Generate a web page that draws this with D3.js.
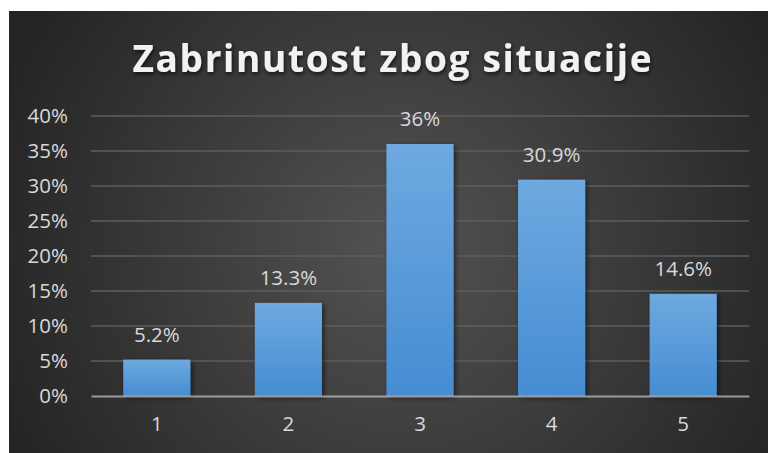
<!DOCTYPE html>
<html>
<head>
<meta charset="utf-8">
<script src="https://cdn.jsdelivr.net/npm/d3@7"></script>
<style>
  body { margin: 0; background: #ffffff; }
  svg { display: block; }
</style>
</head>
<body>
<div class="chart"></div>
<script>
// Chart data
var categories = ["1", "2", "3", "4", "5"];
var values = [5.2, 13.3, 36, 30.9, 14.6];
var valueLabels = ["5.2%", "13.3%", "36%", "30.9%", "14.6%"];
var yTicks = [0, 5, 10, 15, 20, 25, 30, 35, 40];
var title = "Zabrinutost zbog situacije";

var svgWidth = 768;
var svgHeight = 453;

var margin = { top: 116, right: 19, bottom: 57, left: 91 };
var width = svgWidth - margin.left - margin.right;
var height = svgHeight - margin.top - margin.bottom;

var svg = d3.select(".chart")
  .append("svg")
  .attr("width", svgWidth)
  .attr("height", svgHeight);

var defs = svg.append("defs");

// background gradient
var bg = defs.append("radialGradient")
  .attr("id", "bg")
  .attr("gradientUnits", "userSpaceOnUse")
  .attr("cx", 400).attr("cy", 250).attr("r", 430);
bg.append("stop").attr("offset", "0%").attr("stop-color", "#535353");
bg.append("stop").attr("offset", "100%").attr("stop-color", "#242424");

// bar gradient
var barGrad = defs.append("linearGradient")
  .attr("id", "barGrad")
  .attr("x1", 0).attr("y1", 0).attr("x2", 0).attr("y2", 1);
barGrad.append("stop").attr("offset", "0%").attr("stop-color", "#6ea9df");
barGrad.append("stop").attr("offset", "100%").attr("stop-color", "#458dd3");

var shadow = defs.append("filter")
  .attr("id", "shadow")
  .attr("x", "-20%").attr("y", "-20%").attr("width", "150%").attr("height", "150%");
shadow.append("feDropShadow")
  .attr("dx", 2).attr("dy", 2).attr("stdDeviation", 2.5)
  .attr("flood-color", "#000").attr("flood-opacity", 0.55);

var titleShadow = defs.append("filter")
  .attr("id", "titleShadow")
  .attr("x", "-10%").attr("y", "-30%").attr("width", "120%").attr("height", "160%");
titleShadow.append("feDropShadow")
  .attr("dx", 1).attr("dy", 2).attr("stdDeviation", 2)
  .attr("flood-color", "#000").attr("flood-opacity", 0.7);

svg.append("rect")
  .attr("x", 9).attr("y", 11)
  .attr("width", svgWidth - 9).attr("height", svgHeight - 11)
  .attr("fill", "url(#bg)");

// Title
svg.append("text")
  .attr("x", 392)
  .attr("y", 72)
  .attr("text-anchor", "middle")
  .attr("font-family", "'Open Sans', sans-serif")
  .attr("font-weight", "bold")
  .attr("font-size", 37)
  .attr("fill", "#f2f2f2")
  .attr("textLength", 519)
  .attr("lengthAdjust", "spacing")
  .attr("filter", "url(#titleShadow)")
  .text(title);

var chartGroup = svg.append("g")
  .attr("transform", `translate(${margin.left}, ${margin.top})`);

// Scales
var xScale = d3.scaleBand()
  .domain(categories)
  .range([0, width])
  .paddingInner(0.49)
  .paddingOuter(0.245);

var yScale = d3.scaleLinear()
  .domain([0, 40])
  .range([height, 0]);

// Gridlines
chartGroup.append("g")
  .selectAll("line")
  .data(yTicks.filter(d => d > 0))
  .enter()
  .append("line")
  .attr("x1", 0).attr("x2", width)
  .attr("y1", d => yScale(d)).attr("y2", d => yScale(d))
  .attr("stroke", "#5e5e5e")
  .attr("stroke-width", 1.5);

// Y axis labels
var leftAxis = d3.axisLeft(yScale)
  .tickValues(yTicks)
  .tickFormat(d => d + "%")
  .tickSize(0)
  .tickPadding(23);

var yAxis = chartGroup.append("g").call(leftAxis);
yAxis.select(".domain").remove();
yAxis.selectAll("text")
  .attr("font-family", "'Open Sans', sans-serif")
  .attr("font-size", 20.5)
  .attr("fill", "#d9d9d9");

// Bars
chartGroup.selectAll(".bar")
  .data(values)
  .enter()
  .append("rect")
  .attr("class", "bar")
  .attr("x", (d, i) => xScale(categories[i]))
  .attr("y", d => yScale(d))
  .attr("width", xScale.bandwidth())
  .attr("height", d => height - yScale(d))
  .attr("fill", "url(#barGrad)")
  .attr("filter", "url(#shadow)");

// Value labels
chartGroup.selectAll(".label")
  .data(values)
  .enter()
  .append("text")
  .attr("class", "label")
  .attr("x", (d, i) => xScale(categories[i]) + xScale.bandwidth() / 2)
  .attr("y", d => yScale(d) - 18)
  .attr("text-anchor", "middle")
  .attr("font-family", "'Open Sans', sans-serif")
  .attr("font-size", 20.5)
  .attr("fill", "#d9d9d9")
  .text((d, i) => valueLabels[i]);

// X axis
var bottomAxis = d3.axisBottom(xScale).tickSize(0).tickPadding(20);
var xAxis = chartGroup.append("g")
  .attr("transform", `translate(0, ${height})`)
  .call(bottomAxis);
xAxis.select(".domain")
  .attr("stroke", "#bfbfbf")
  .attr("stroke-opacity", 0.75)
  .attr("stroke-width", 2);
xAxis.selectAll("text")
  .attr("font-family", "'Open Sans', sans-serif")
  .attr("font-size", 20.5)
  .attr("fill", "#d9d9d9");
</script>
</body>
</html>
